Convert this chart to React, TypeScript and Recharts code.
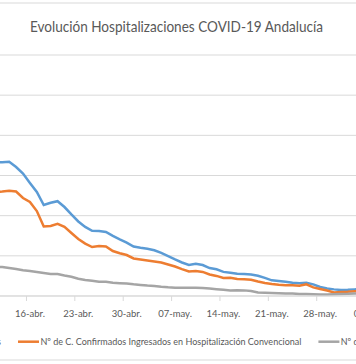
import React from 'react';
import { LineChart, Line, XAxis, YAxis, CartesianGrid, Legend } from 'recharts';

// Daily dates, 10-abr. to 04-jun.
const dates: string[] = [
  '10-abr.', '11-abr.', '12-abr.', '13-abr.', '14-abr.', '15-abr.', '16-abr.', '17-abr.', '18-abr.', '19-abr.',
  '20-abr.', '21-abr.', '22-abr.', '23-abr.', '24-abr.', '25-abr.', '26-abr.', '27-abr.', '28-abr.', '29-abr.',
  '30-abr.', '01-may.', '02-may.', '03-may.', '04-may.', '05-may.', '06-may.', '07-may.', '08-may.', '09-may.',
  '10-may.', '11-may.', '12-may.', '13-may.', '14-may.', '15-may.', '16-may.', '17-may.', '18-may.', '19-may.',
  '20-may.', '21-may.', '22-may.', '23-may.', '24-may.', '25-may.', '26-may.', '27-may.', '28-may.', '29-may.',
  '30-may.', '31-may.', '01-jun.', '02-jun.', '03-jun.', '04-jun.',
];

const hospitalizados: number[] = [
  662, 665, 666, 668, 642, 610, 563, 518, 453, 464, 472, 443, 406, 371, 344, 325, 324, 319, 299, 282,
  266, 246, 240, 235, 228, 215, 199, 182, 167, 155, 161, 154, 139, 133, 120, 116, 111, 109, 107, 101,
  90, 78, 75, 71, 66, 63, 66, 58, 45, 37, 33, 30, 31, 33, 35, 35,
];

const convencional: number[] = [
  515, 518, 520, 524, 520, 488, 468, 423, 346, 349, 359, 344, 314, 284, 261, 244, 249, 247, 224, 213,
  204, 187, 182, 177, 172, 167, 157, 147, 134, 122, 125, 120, 107, 100, 90, 91, 85, 83, 81, 72,
  65, 60, 56, 54, 53, 51, 58, 43, 35, 27, 18, 20, 21, 24, 25, 25,
];

const uci: number[] = [
  150, 147, 144, 139, 134, 128, 125, 120, 115, 110, 109, 102, 96, 86, 80, 76, 71, 71, 66, 64,
  62, 58, 55, 52, 50, 46, 43, 41, 41, 41, 41, 40, 37, 34, 31, 28, 29, 28, 25, 17,
  16, 15, 14, 13, 12, 10, 10, 9, 8, 8, 9, 10, 11, 13, 13, 13,
];

const seriesNames: string[] = [
  'Nº de C. Confirmados Hospitalizados',
  'Nº de C. Confirmados Ingresados en Hospitalización Convencional',
  'Nº de C. Confirmados Ingresados en UCI',
];

const title = 'Evolución Hospitalizaciones COVID-19 Andalucía';

// Weekly labelled dates (16-abr., 23-abr., ...)
const xTicks: number[] = [6, 13, 20, 27, 34, 41, 48, 55];
const yTicks: number[] = [0, 200, 400, 600, 800, 1000, 1200];

const rows = dates.map((d, i) => ({
  i,
  date: d,
  hosp: hospitalizados[i],
  conv: convencional[i],
  uci: uci[i],
}));

const CHART_W = 387;
const CHART_H = 364;
const CHART_LEFT = -14.73;
const PX_PER_DAY = CHART_W / dates.length;
const FONT = 'Lato, "Open Sans", sans-serif';
const TEXT_COLOR = '#595959';
const GRID = '#d9d9d9';

function DateTick(props: any) {
  const { x, y, payload } = props;
  const edge = x - PX_PER_DAY / 2;
  return (
    <g>
      <line x1={edge} x2={edge} y1={y} y2={y + 5} stroke={GRID} strokeWidth={1} />
      <text x={x} y={y + 21} textAnchor="middle" fontFamily={FONT} fontSize={9.5} fill={TEXT_COLOR}>
        {dates[payload.value]}
      </text>
    </g>
  );
}

const LEG_LINE = 21;
const LEG_TEXT_GAP = 1.4;
const LEG_ITEM_GAP = 17;
const LEG_CHAR_W = 4.143;
const LEG_X0 = -151.4;

function LegendRow(props: any) {
  const payload: any[] = props.payload || [];
  let cursor = LEG_X0;
  const items = payload.map((p, k) => {
    const name = String(p.value);
    const w = name.length * LEG_CHAR_W;
    const x = cursor;
    cursor += LEG_LINE + LEG_TEXT_GAP + w + LEG_ITEM_GAP;
    return (
      <g key={k}>
        <line x1={x} x2={x + LEG_LINE} y1={11.7} y2={11.7} stroke={p.color} strokeWidth={2.5} />
        <text
          x={x + LEG_LINE + LEG_TEXT_GAP}
          y={15}
          fontFamily={FONT}
          fontSize={9.5}
          fill={TEXT_COLOR}
          textLength={w}
          lengthAdjust="spacingAndGlyphs"
        >
          {name}
        </text>
      </g>
    );
  });
  return (
    <svg width={CHART_W} height={24} style={{ overflow: 'visible', display: 'block' }}>
      {items}
    </svg>
  );
}

export default function App() {
  return (
    <div
      style={{
        position: 'fixed',
        left: 0,
        top: 0,
        width: 356,
        height: 364,
        overflow: 'hidden',
        background: '#ffffff',
      }}
    >
      <div style={{ position: 'absolute', left: CHART_LEFT, top: 0 }}>
        <LineChart width={CHART_W} height={CHART_H} data={rows} margin={{ top: 55, right: 0, bottom: 0, left: 0 }}>
          <CartesianGrid vertical={false} horizontal={true} stroke={GRID} strokeWidth={1} />
          <XAxis
            dataKey="i"
            type="number"
            domain={[-0.5, dates.length - 0.5]}
            ticks={xTicks}
            interval={0}
            height={68}
            tickSize={0}
            tickMargin={0}
            tickLine={false}
            axisLine={{ stroke: GRID, strokeWidth: 1 }}
            tick={<DateTick />}
          />
          <YAxis
            type="number"
            domain={[0, 1200]}
            ticks={yTicks}
            interval={0}
            width={0}
            tick={{ fill: TEXT_COLOR, fontSize: 9.5, fontFamily: FONT }}
            tickLine={false}
            axisLine={false}
          />
          <Legend
            layout="horizontal"
            verticalAlign="middle"
            align="center"
            content={<LegendRow />}
            wrapperStyle={{ position: 'absolute', left: 0, top: 330, width: CHART_W, height: 24 }}
          />
          <Line
            type="linear"
            dataKey="hosp"
            name={seriesNames[0]}
            stroke="#5B9BD5"
            strokeWidth={2.5}
            dot={false}
            isAnimationActive={false}
          />
          <Line
            type="linear"
            dataKey="conv"
            name={seriesNames[1]}
            stroke="#ED7D31"
            strokeWidth={2.5}
            dot={false}
            isAnimationActive={false}
          />
          <Line
            type="linear"
            dataKey="uci"
            name={seriesNames[2]}
            stroke="#A5A5A5"
            strokeWidth={2.5}
            dot={false}
            isAnimationActive={false}
          />
        </LineChart>
      </div>
      <svg
        width={356}
        height={364}
        style={{ position: 'absolute', left: 0, top: 0, pointerEvents: 'none' }}
      >
        <text
          x={176.5}
          y={31.5}
          textAnchor="middle"
          fontFamily={FONT}
          fontSize={15}
          fill={TEXT_COLOR}
          textLength={293}
          lengthAdjust="spacingAndGlyphs"
        >
          {title}
        </text>
        <line x1={0} x2={356} y1={3} y2={3} stroke={GRID} strokeWidth={1} />
        <line x1={0} x2={356} y1={360} y2={360} stroke={GRID} strokeWidth={1} />
      </svg>
    </div>
  );
}
